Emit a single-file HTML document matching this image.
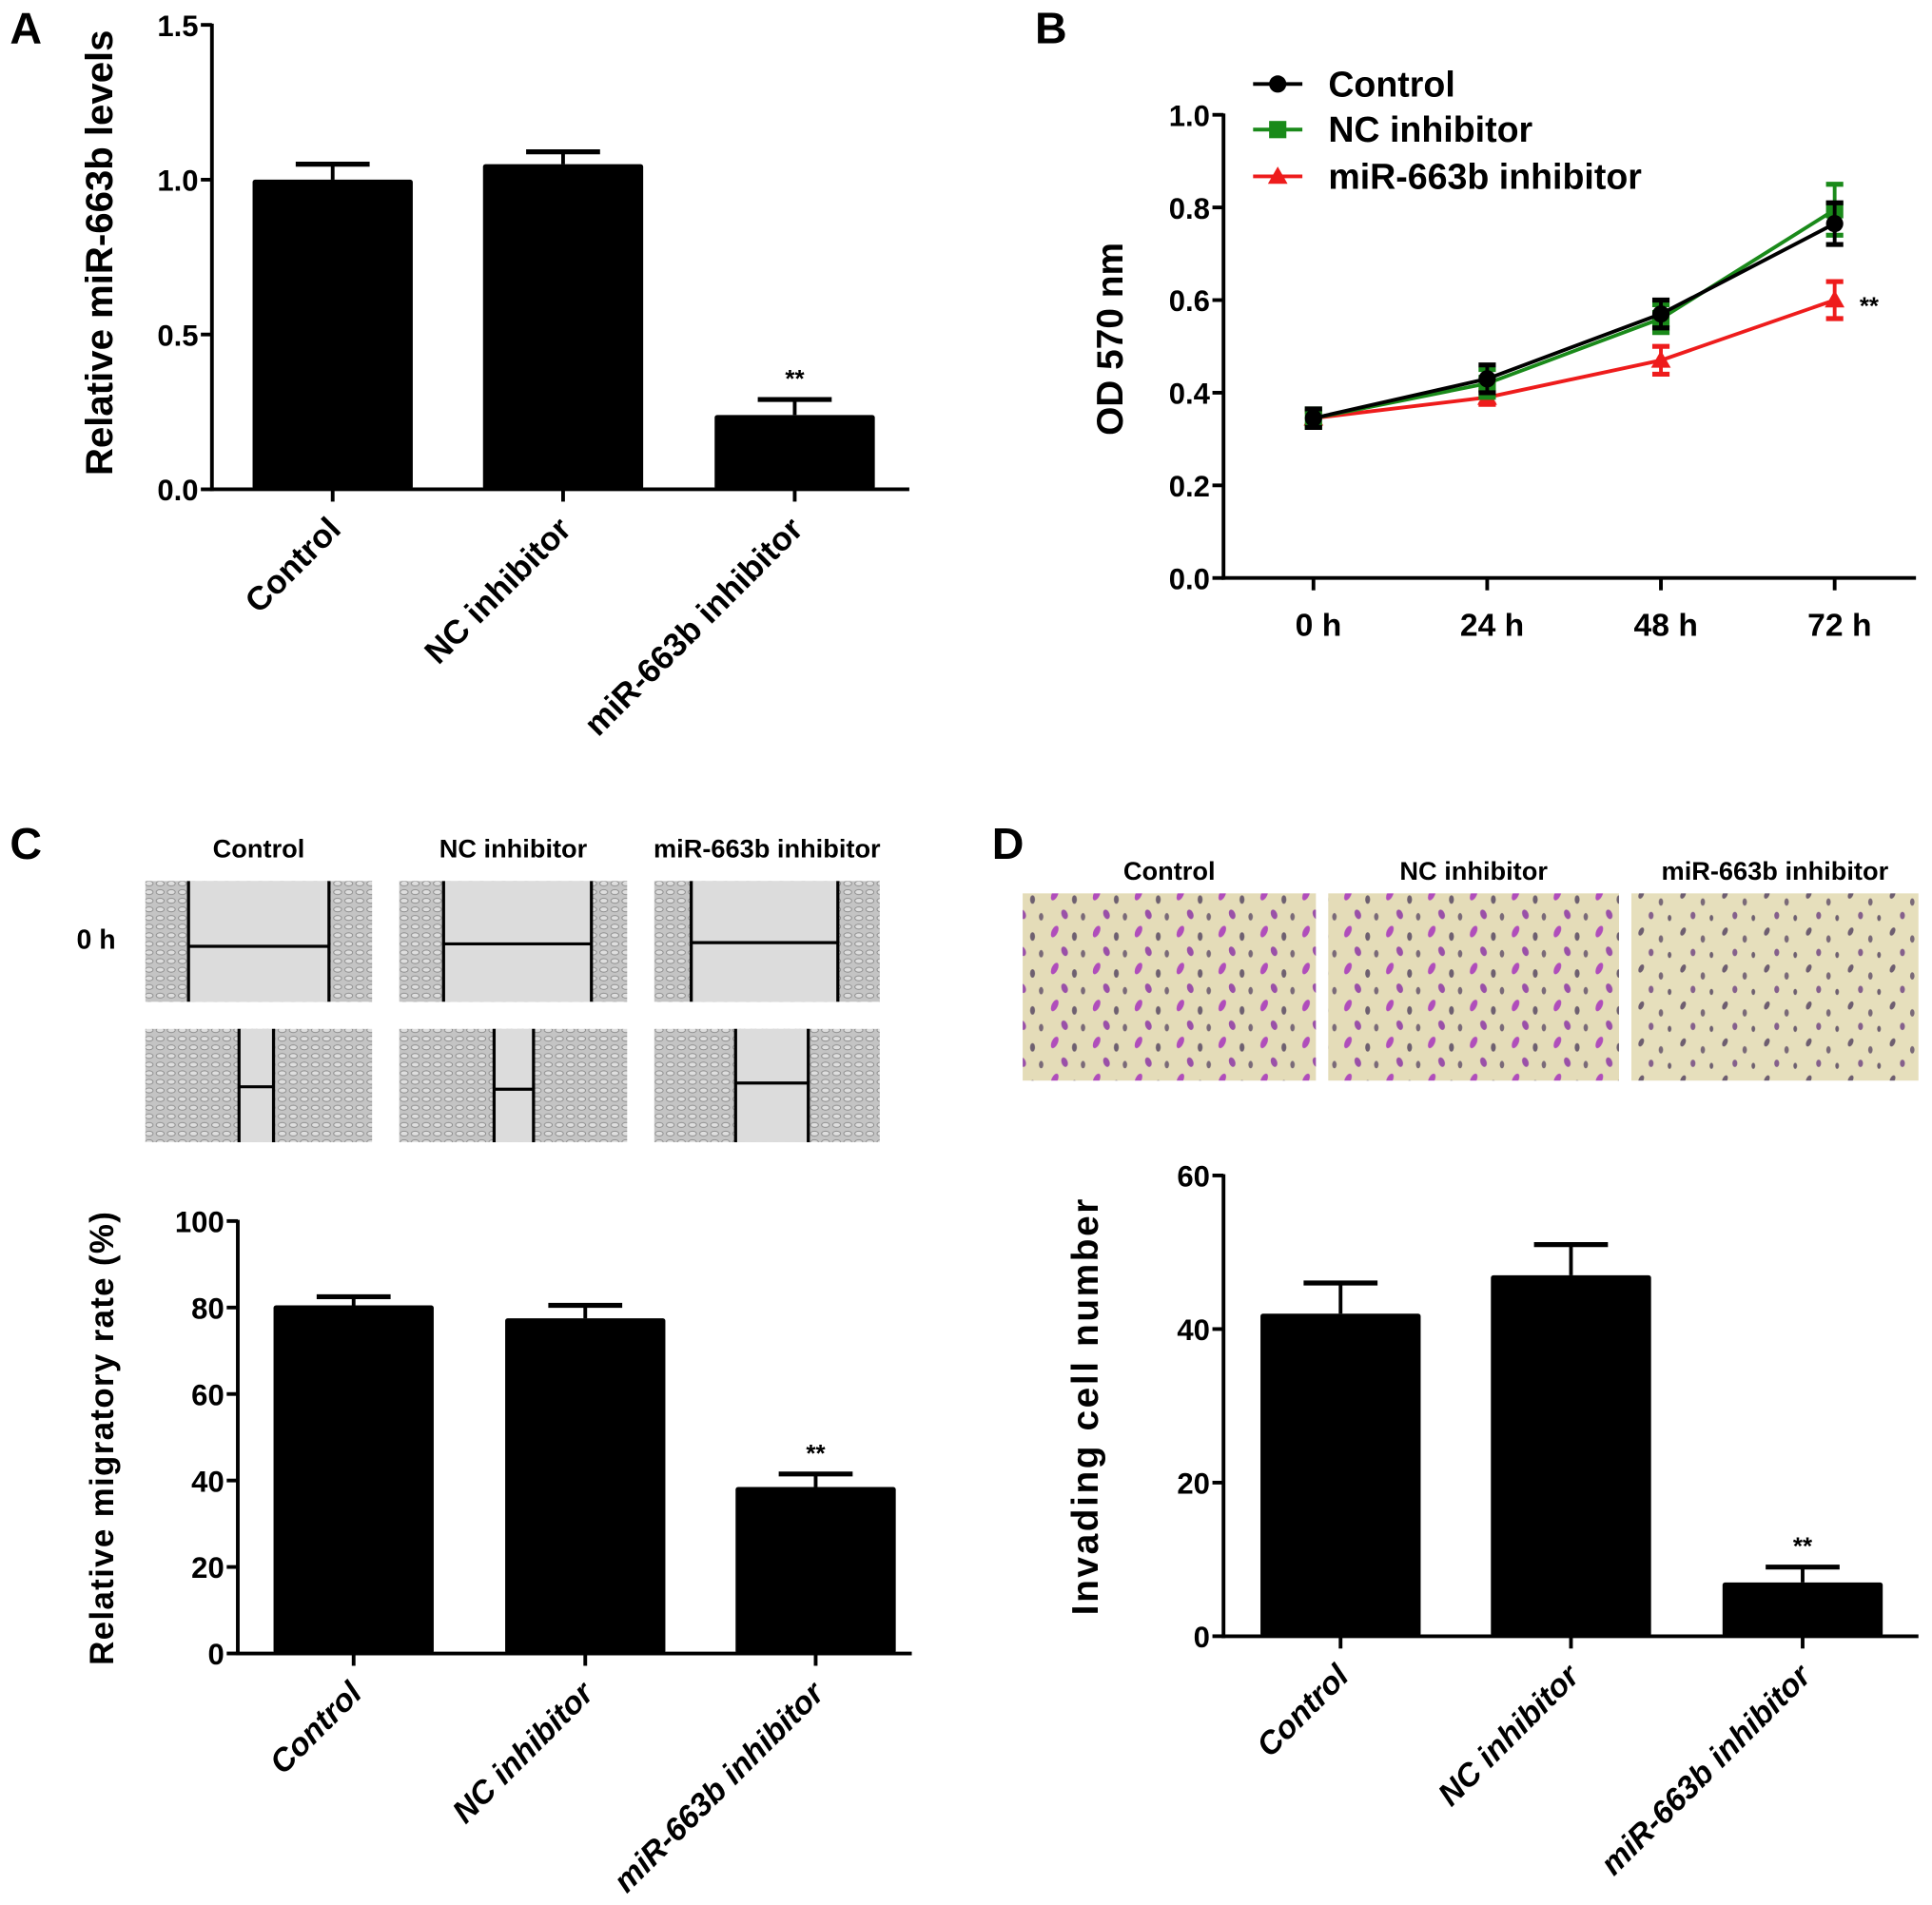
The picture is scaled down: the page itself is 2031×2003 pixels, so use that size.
<!DOCTYPE html>
<html><head><meta charset="utf-8"><style>
html,body{margin:0;padding:0;background:#fff;}
svg{display:block;font-family:"Liberation Sans",Arial,sans-serif;font-weight:bold;}
</style></head><body>
<svg id="fig" width="2031" height="2003" viewBox="0 0 1568 1546" xmlns="http://www.w3.org/2000/svg">
<defs>
<pattern id="cells" width="9" height="7" patternUnits="userSpaceOnUse">
<rect width="9" height="7" fill="#c4c4c4"/><ellipse cx="4" cy="3" rx="3.2" ry="2" fill="#dedede" stroke="#8a8a8a" stroke-width="0.7"/>
</pattern>
<pattern id="stain" width="34" height="30" patternUnits="userSpaceOnUse">
<rect width="34" height="30" fill="#e4dcb8"/>
<ellipse cx="6" cy="6" rx="2.5" ry="5" fill="#b04dbb" transform="rotate(25 6 6)"/>
<ellipse cx="22" cy="10" rx="2" ry="3.5" fill="#6e6070"/>
<ellipse cx="14" cy="22" rx="2.5" ry="4" fill="#9a50a8" transform="rotate(-20 14 22)"/>
<ellipse cx="29" cy="24" rx="1.8" ry="3" fill="#7a6a78"/>
</pattern>
<pattern id="stain2" width="34" height="30" patternUnits="userSpaceOnUse">
<rect width="34" height="30" fill="#e6dfbc"/>
<ellipse cx="6" cy="6" rx="2" ry="3.5" fill="#6e5e70" transform="rotate(25 6 6)"/>
<ellipse cx="22" cy="12" rx="1.8" ry="3" fill="#7a6a78"/>
<ellipse cx="14" cy="23" rx="2" ry="3" fill="#85608c"/>
<ellipse cx="29" cy="25" rx="1.5" ry="2.5" fill="#6e6070"/>
</pattern>
</defs>
<g id="root"></g>
</svg>
<script>
// ---- Panel A data ----
const aCats = ["Control","NC inhibitor","miR-663b inhibitor"];
const aVals = [1.0, 1.05, 0.24];
const aErr = [0.05, 0.04, 0.05];
const aTicks = [0, 0.5, 1.0, 1.5];
const aTickLabels = ["0.0","0.5","1.0","1.5"];
// ---- Panel B data ----
const bTimes = ["0 h","24 h","48 h","72 h"];
const bControl = [0.345, 0.43, 0.57, 0.765];
const bNC = [0.345, 0.42, 0.56, 0.795];
const bMiR = [0.345, 0.39, 0.47, 0.60];
const bErrControl = [0.02, 0.03, 0.03, 0.045];
const bErrNC = [0.02, 0.03, 0.03, 0.055];
const bErrMiR = [0.015, 0.015, 0.03, 0.04];
const bTicks = [0, 0.2, 0.4, 0.6, 0.8, 1.0];
const bTickLabels = ["0.0","0.2","0.4","0.6","0.8","1.0"];
// ---- Panel C data ----
const cCats = ["Control","NC inhibitor","miR-663b inhibitor"];
const cVals = [80.5, 77.5, 38.5];
const cErr = [2, 3, 3];
const cTicks = [0, 20, 40, 60, 80, 100];
// ---- Panel D data ----
const dCats = ["Control","NC inhibitor","miR-663b inhibitor"];
const dVals = [42, 47, 7];
const dErr = [4, 4, 2];
const dTicks = [0, 20, 40, 60];

const NS = "http://www.w3.org/2000/svg";
const root = document.getElementById("root");
function mk(tag, attrs, parent, text){
  const e = document.createElementNS(NS, tag);
  for (const k in attrs) e.setAttribute(k, attrs[k]);
  if (text !== undefined) e.textContent = text;
  (parent || root).appendChild(e);
  return e;
}
function label(txt, x, y){
  const t = mk("text", {x:x, y:y, "font-size":36});
  t.textContent = txt;
  
  
}
label("A", 8, 35); label("B", 840, 35); label("C", 8, 697); label("D", 805, 697);

function barChart(o){
  const g = mk("g", {});
  
  
  const ys = v => o.y0 - (v - o.min) / (o.max - o.min) * (o.y0 - o.y1);
  const st = o.italic ? "italic" : "normal";
  o.ticks.forEach((v, i) => {
    const y = ys(v);
    mk("line", {x1:o.ax - 9, x2:o.ax, y1:y, y2:y, stroke:"#000", "stroke-width":3}, g);
    const t = mk("text", {x:o.ax - 11, y:y + 9, "text-anchor":"end", "font-size":o.tfs}, g, o.tickLabels ? o.tickLabels[i] : String(v));
    
    
  });
  o.vals.forEach((v, i) => {
    const cx = o.cx[i];
    const top = ys(v), et = ys(v + o.err[i]);
    mk("line", {x1:cx, x2:cx, y1:et, y2:top, stroke:"#000", "stroke-width":3}, g);
    mk("line", {x1:cx - 30, x2:cx + 30, y1:et, y2:et, stroke:"#000", "stroke-width":4}, g);
    const r = mk("rect", {x:cx - o.bw / 2, y:top, width:o.bw, height:o.y0 - top, fill:"#000", rx:2}, g);
    
    
    mk("line", {x1:cx, x2:cx, y1:o.y0, y2:o.y0 + 10, stroke:"#000", "stroke-width":3}, g);
    const lt = mk("text", {x:0, y:0, "text-anchor":"end", "font-size":o.lfs, "font-style":st,
      transform:`translate(${cx + 8},${o.y0 + 34}) rotate(-45)`}, g, o.cats[i]);
    
    
    if (i === 2) {
      const s = mk("text", {x:cx, y:et - 10, "text-anchor":"middle", "font-size":20}, g, "**");
      
      
    }
  });
  mk("line", {x1:o.ax, x2:o.ax, y1:o.y1 - 1, y2:o.y0 + 1.5, stroke:"#000", "stroke-width":3}, g);
  mk("line", {x1:o.ax - 1.5, x2:o.xend, y1:o.y0, y2:o.y0, stroke:"#000", "stroke-width":3}, g);
  const yt = mk("text", {x:0, y:0, "text-anchor":"middle", "font-size":o.yfs,
    transform:`translate(${o.ytx},${o.yty}) rotate(-90)`, "letter-spacing":o.yls || 0}, g, o.ytitle);
  
  
}

barChart({name:"chart-a", cats:aCats, vals:aVals, err:aErr, ticks:aTicks, tickLabels:aTickLabels,
  min:0, max:1.5, y0:397, y1:20, ax:172, xend:738, cx:[270,457,645], bw:130,
  tfs:24, lfs:27, ytitle:"Relative miR-663b levels", ytx:91, yty:205, yfs:31});
barChart({name:"chart-c", cats:cCats, vals:cVals, err:cErr, ticks:cTicks,
  min:0, max:100, y0:1342, y1:991, ax:193, xend:740, cx:[287,475,662], bw:130,
  tfs:24, lfs:26, italic:true, ytitle:"Relative migratory rate (%)", ytx:92, yty:1167, yfs:27, yls:1});
barChart({name:"chart-d", cats:dCats, vals:dVals, err:dErr, ticks:dTicks,
  min:0, max:60, y0:1328, y1:954, ax:993, xend:1557, cx:[1088,1275,1463], bw:130,
  tfs:24, lfs:26, italic:true, ytitle:"Invading cell number", ytx:891, yty:1141, yfs:30, yls:2});

// ---- Panel B line chart ----
(function(){
  const g = mk("g", {});
  
  
  const y0 = 469, y1 = 93, ax = 993;
  const ys = v => y0 - v * (y0 - y1);
  const xs = i => 1066 + i * 141;
  bTicks.forEach((v, i) => {
    const y = ys(v);
    mk("line", {x1:ax - 9, x2:ax, y1:y, y2:y, stroke:"#000", "stroke-width":3}, g);
    const t = mk("text", {x:ax - 11, y:y + 9, "text-anchor":"end", "font-size":24}, g, bTickLabels[i]);
    
    
  });
  bTimes.forEach((l, i) => {
    mk("line", {x1:xs(i), x2:xs(i), y1:y0, y2:y0 + 10, stroke:"#000", "stroke-width":3}, g);
    const t = mk("text", {x:xs(i) + 4, y:516, "text-anchor":"middle", "font-size":26}, g, l);
    
    
  });
  mk("line", {x1:ax, x2:ax, y1:y1 - 1, y2:y0 + 1.5, stroke:"#000", "stroke-width":3}, g);
  mk("line", {x1:ax - 1.5, x2:1555, y1:y0, y2:y0, stroke:"#000", "stroke-width":3}, g);
  const series = [
    {name:"miR-663b inhibitor", vals:bMiR, err:bErrMiR, col:"#ee1c1c", m:"tri"},
    {name:"NC inhibitor", vals:bNC, err:bErrNC, col:"#1a8a1a", m:"sq"},
    {name:"Control", vals:bControl, err:bErrControl, col:"#000", m:"circ"}
  ];
  function marker(m, x, y, col, parent){
    if (m === "circ") return mk("circle", {cx:x, cy:y, r:7, fill:col}, parent);
    if (m === "sq") return mk("rect", {x:x - 7, y:y - 7, width:14, height:14, fill:col}, parent);
    return mk("polygon", {points:`${x},${y-8} ${x+8},${y+6} ${x-8},${y+6}`, fill:col}, parent);
  }
  series.forEach(s => {
    const sg = mk("g", {}, g);
    
    
    mk("polyline", {points:s.vals.map((v, i) => xs(i) + "," + ys(v)).join(" "), fill:"none", stroke:s.col, "stroke-width":3}, sg);
    s.vals.forEach((v, i) => {
      const x = xs(i), a = ys(v + s.err[i]), b = ys(v - s.err[i]);
      mk("line", {x1:x, x2:x, y1:a, y2:b, stroke:s.col, "stroke-width":3}, sg);
      mk("line", {x1:x - 7, x2:x + 7, y1:a, y2:a, stroke:s.col, "stroke-width":4}, sg);
      mk("line", {x1:x - 7, x2:x + 7, y1:b, y2:b, stroke:s.col, "stroke-width":4}, sg);
      const mm = marker(s.m, x, ys(v), s.col, sg);
      
      
    });
  });
  const st = mk("text", {x:1517, y:255, "text-anchor":"middle", "font-size":20}, g, "**");
  
  
  const leg = [["Control","#000","circ",68],["NC inhibitor","#1a8a1a","sq",105],["miR-663b inhibitor","#ee1c1c","tri",143]];
  leg.forEach(l => {
    const lg = mk("g", {}, g);
    
    
    mk("line", {x1:1017, x2:1057, y1:l[3], y2:l[3], stroke:l[1], "stroke-width":3}, lg);
    marker(l[2], 1037, l[3], l[1], lg);
    mk("text", {x:1078, y:l[3] + 10, "font-size":29}, lg, l[0]);
  });
  const yt = mk("text", {x:0, y:0, "text-anchor":"middle", "font-size":30, transform:"translate(911,275) rotate(-90)"}, g, "OD 570 nm");
  
  
})();

// ---- Panel C wound images ----
(function(){
  const g = mk("g", {});
  
  
  const cols = [[118,302],[324,509],[531,714]];
  const heads = ["Control","NC inhibitor","miR-663b inhibitor"];
  const row0 = [[153,267,768],[360,480,766],[561,680,765]];
  const row1 = [[194,222,882],[401,433,884],[597,656,879]];
  cols.forEach((c, i) => {
    const h = mk("text", {x:(c[0] + c[1]) / 2, y:696, "text-anchor":"middle", "font-size":21}, g, heads[i]);
    
    
    [[715,813,row0[i]],[835,927,row1[i]]].forEach(r => {
      mk("rect", {x:c[0], y:r[0], width:c[1] - c[0], height:r[1] - r[0], fill:"url(#cells)"}, g);
      const l = r[2];
      mk("rect", {x:l[0], y:r[0], width:l[1] - l[0], height:r[1] - r[0], fill:"#dcdcdc"}, g);
      mk("line", {x1:l[0], x2:l[0], y1:r[0], y2:r[1], stroke:"#000", "stroke-width":2.5}, g);
      mk("line", {x1:l[1], x2:l[1], y1:r[0], y2:r[1], stroke:"#000", "stroke-width":2.5}, g);
      mk("line", {x1:l[0], x2:l[1], y1:l[2], y2:l[2], stroke:"#000", "stroke-width":2.5}, g);
    });
  });
  const t = mk("text", {x:78, y:770, "text-anchor":"middle", "font-size":22}, g, "0 h");
  
  
})();

// ---- Panel D invasion images ----
(function(){
  const g = mk("g", {});
  
  
  const cols = [[830,1068,"url(#stain)"],[1078,1314,"url(#stain)"],[1324,1557,"url(#stain2)"]];
  const heads = ["Control","NC inhibitor","miR-663b inhibitor"];
  cols.forEach((c, i) => {
    const h = mk("text", {x:(c[0] + c[1]) / 2, y:714, "text-anchor":"middle", "font-size":21}, g, heads[i]);
    
    
    mk("rect", {x:c[0], y:725, width:c[1] - c[0], height:152, fill:c[2]}, g);
  });
})();
</script>
</body></html>
